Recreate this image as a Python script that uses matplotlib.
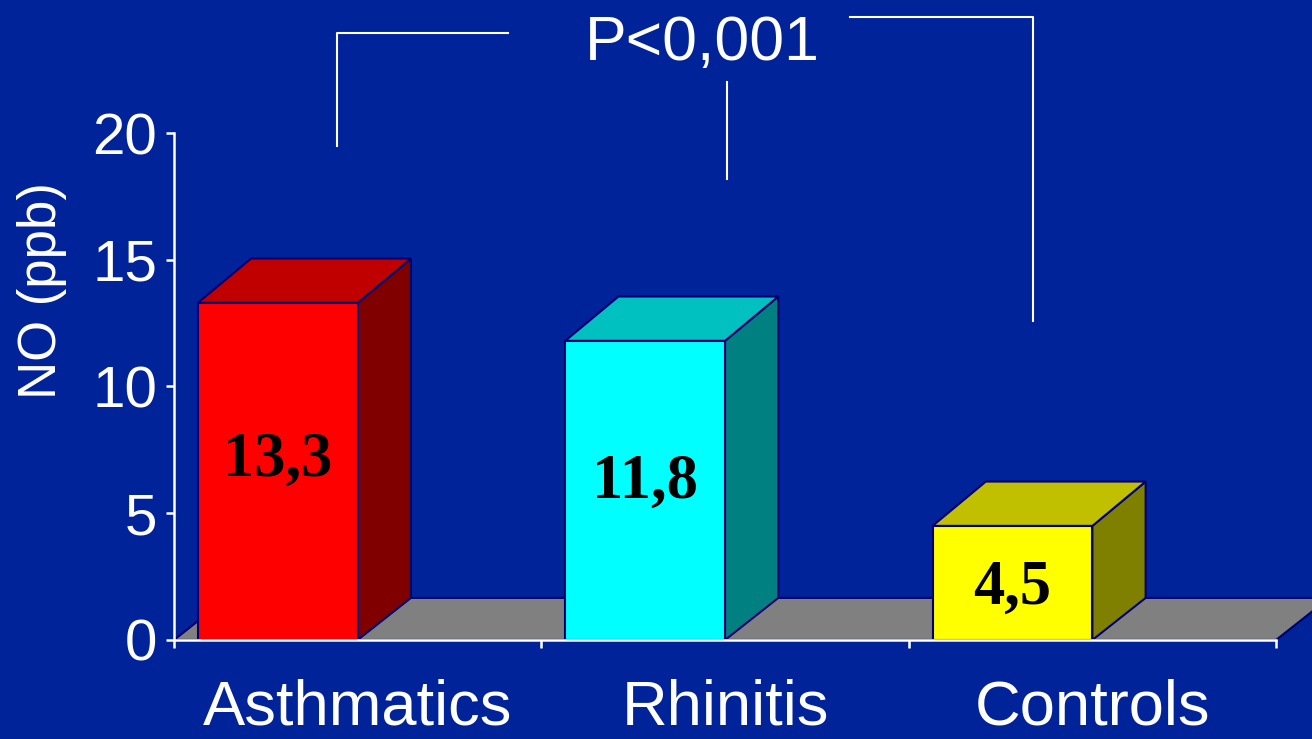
import numpy as np
import matplotlib
matplotlib.use("Agg")
import matplotlib.pyplot as plt
from matplotlib.patches import Polygon

categories = ["Asthmatics", "Rhinitis", "Controls"]
values = [13.3, 11.8, 4.5]
value_labels = ["13,3", "11,8", "4,5"]
front_colors = ["#FF0000", "#00FFFF", "#FFFF00"]
top_colors = ["#C00000", "#00C0C0", "#C0C000"]
side_colors = ["#800000", "#008080", "#808000"]
yticks = [0, 5, 10, 15, 20]
p_text = "P<0,001"

bg = "#00239A"
edge = "#000070"
dx, dy = 0.145, 1.75

fig = plt.figure(figsize=(13.12, 7.39), dpi=100)
fig.patch.set_facecolor(bg)
ax = fig.add_axes([0.1326, 0.134, 0.84, 0.686])
ax.set_facecolor(bg)
ax.set_xlim(0, 3)
ax.set_ylim(0, 20)

# floor
floor = Polygon([(0, 0), (3, 0), (3 + dx, 1.66), (dx, 1.66)],
                closed=True, facecolor="#808080", edgecolor=edge, lw=1.5,
                zorder=1, clip_on=False)
ax.add_patch(floor)

# 3D bars
for i, v in enumerate(values):
    x0 = i + 0.065
    x1 = i + 0.5
    front = Polygon([(x0, 0), (x1, 0), (x1, v), (x0, v)], closed=True,
                    facecolor=front_colors[i], edgecolor=edge, lw=1.5, zorder=4)
    top = Polygon([(x0, v), (x1, v), (x1 + dx, v + dy), (x0 + dx, v + dy)],
                  closed=True, facecolor=top_colors[i], edgecolor=edge, lw=1.5, zorder=3)
    side = Polygon([(x1, 0), (x1 + dx, 1.66), (x1 + dx, v + dy), (x1, v)],
                   closed=True, facecolor=side_colors[i], edgecolor=edge, lw=1.5, zorder=3)
    ax.add_patch(side)
    ax.add_patch(top)
    ax.add_patch(front)
    ax.text((x0 + x1) / 2, 0.574 * v - 0.58, value_labels[i], ha="center", va="center",
            fontsize=45, fontweight="bold", family="Liberation Serif",
            color="black", zorder=5)

# axes styling
for s in ["top", "right"]:
    ax.spines[s].set_visible(False)
for s in ["left", "bottom"]:
    ax.spines[s].set_color("white")
    ax.spines[s].set_linewidth(1.8)
    ax.spines[s].set_zorder(6)

ax.set_yticks(yticks)
ax.set_yticklabels([str(t) for t in yticks])
ax.tick_params(axis="y", colors="white", length=6, width=1.8, labelsize=42, pad=6)
ax.set_xticks([0, 1, 2, 3])
ax.set_xticklabels([])
ax.set_xticks([0.5, 1.5, 2.5], minor=True)
ax.set_xticklabels(categories, minor=True)
ax.tick_params(axis="x", which="major", colors="white", length=6, width=1.8)
ax.tick_params(axis="x", which="minor", colors="white", length=0, labelsize=45.5, pad=28)
for lab in ax.get_xticklabels(minor=True) + ax.get_yticklabels():
    lab.set_family("Liberation Sans")

ax.set_ylabel("NO (ppb)", color="white", fontsize=38, family="Liberation Sans")
ax.yaxis.set_label_coords(-0.097, 0.69)

# significance brackets
lk = dict(color="white", lw=1.5, clip_on=False, zorder=6)
ax.plot([0.444, 0.444, 0.909], [19.5, 23.94, 23.94], **lk)
ax.plot([1.84, 2.339, 2.339], [24.58, 24.58, 12.6], **lk)
ax.plot([1.506, 1.506], [22.0, 18.2], **lk)
ax.text(1.438, 23.55, p_text, ha="center", va="center", color="white",
        fontsize=45, family="Liberation Sans", clip_on=False)

fig.savefig("out.png", dpi=100, facecolor=bg)
plt.close(fig)
